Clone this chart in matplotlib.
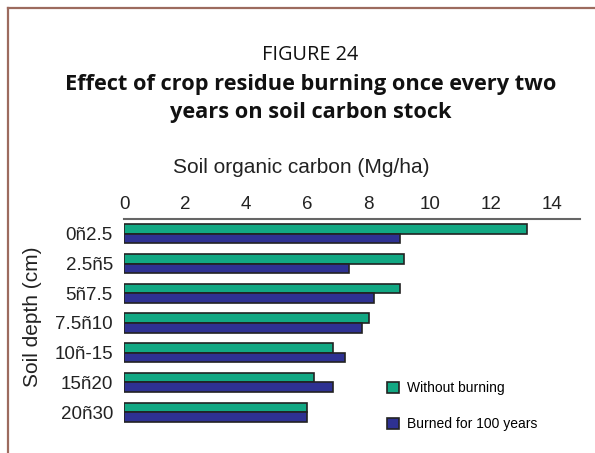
import matplotlib
matplotlib.use("Agg")
import matplotlib.pyplot as plt
from matplotlib import font_manager as fm
from matplotlib.patches import Patch

names = sorted({f.name for f in fm.fontManager.ttflist})

categories = ["0ñ2.5", "2.5ñ5", "5ñ7.5", "7.5ñ10", "10ñ-15", "15ñ20", "20ñ30"]
without_burning = [13.17, 9.16, 9.04, 8.03, 6.85, 6.23, 5.97]
burned = [9.04, 7.35, 8.17, 7.79, 7.23, 6.85, 5.97]
xticks = [0, 2, 4, 6, 8, 10, 12, 14]

narrow = "Liberation Sans Narrow" if "Liberation Sans Narrow" in names else "Liberation Sans"
title_font = "Open Sans"

W, H = 595, 453
fig = plt.figure(figsize=(W / 100, H / 100), dpi=100)

def fx(px):
    return px / W

def fy(py):
    return 1 - py / H

# frame lines (top and left)
frame_col = "#9C6B5E"
fig.add_artist(plt.Line2D([fx(8), 1], [fy(8), fy(8)], color=frame_col, lw=1.6))
fig.add_artist(plt.Line2D([fx(8), fx(8)], [fy(8), 0], color=frame_col, lw=1.6))

ax = fig.add_axes([fx(124), fy(440), fx(580) - fx(124), (440 - 219) / H])
green = "#12A883"
blue = "#2E3192"
edge = "#222222"
ys = list(range(len(categories)))
bh = 0.32
ax.barh([y - bh / 2 for y in ys], without_burning, height=bh, color=green,
        edgecolor=edge, linewidth=1.2, label="Without burning")
ax.barh([y + bh / 2 for y in ys], burned, height=bh, color=blue,
        edgecolor=edge, linewidth=1.2, label="Burned for 100 years")
ax.set_xlim(0, (580 - 124) / 30.57)
ax.set_ylim((440 - 233.8) / 29.73, (219 - 233.8) / 29.73)
ax.set_yticks(ys)
ax.set_yticklabels(categories, fontfamily=narrow, fontsize=13.5, color="#222222")
ax.set_xticks(xticks)
ax.set_xticklabels([str(t) for t in xticks], fontfamily=narrow, fontsize=13.5, color="#222222")
ax.xaxis.tick_top()
ax.tick_params(axis="both", length=0)
ax.tick_params(axis="x", pad=4)
ax.tick_params(axis="y", pad=8)
for s in ["right", "bottom", "left"]:
    ax.spines[s].set_visible(False)
ax.spines["top"].set_color("#666666")
ax.spines["top"].set_linewidth(1.5)

fig.text(fx(310), fy(60), "FIGURE 24", ha="center", va="baseline",
         fontfamily=title_font, fontsize=14.3, color="#111111")
fig.text(fx(311), fy(90), "Effect of crop residue burning once every two",
         ha="center", va="baseline", fontfamily=title_font, fontweight="bold",
         fontsize=15.7, color="#111111")
fig.text(fx(311), fy(118), "years on soil carbon stock",
         ha="center", va="baseline", fontfamily=title_font, fontweight="bold",
         fontsize=15.7, color="#111111")
fig.text(fx(301), fy(173), "Soil organic carbon (Mg/ha)", ha="center", va="baseline",
         fontfamily=narrow, fontsize=15, color="#222222")
fig.text(fx(33), fy(317), "Soil depth (cm)", ha="center", va="center", rotation=90,
         fontfamily=narrow, fontsize=15, color="#222222")

handles = [Patch(facecolor=green, edgecolor=edge, linewidth=1.2),
           Patch(facecolor=blue, edgecolor=edge, linewidth=1.2)]
leg = fig.legend(handles, ["Without burning", "Burned for 100 years"],
                 loc="upper left", bbox_to_anchor=(fx(376), fy(370)),
                 frameon=False, prop={"family": narrow, "size": 10},
                 handlelength=0.85, handleheight=0.85, handletextpad=0.55,
                 labelspacing=1.6, borderpad=0.3)

fig.savefig("out.png", dpi=100)
